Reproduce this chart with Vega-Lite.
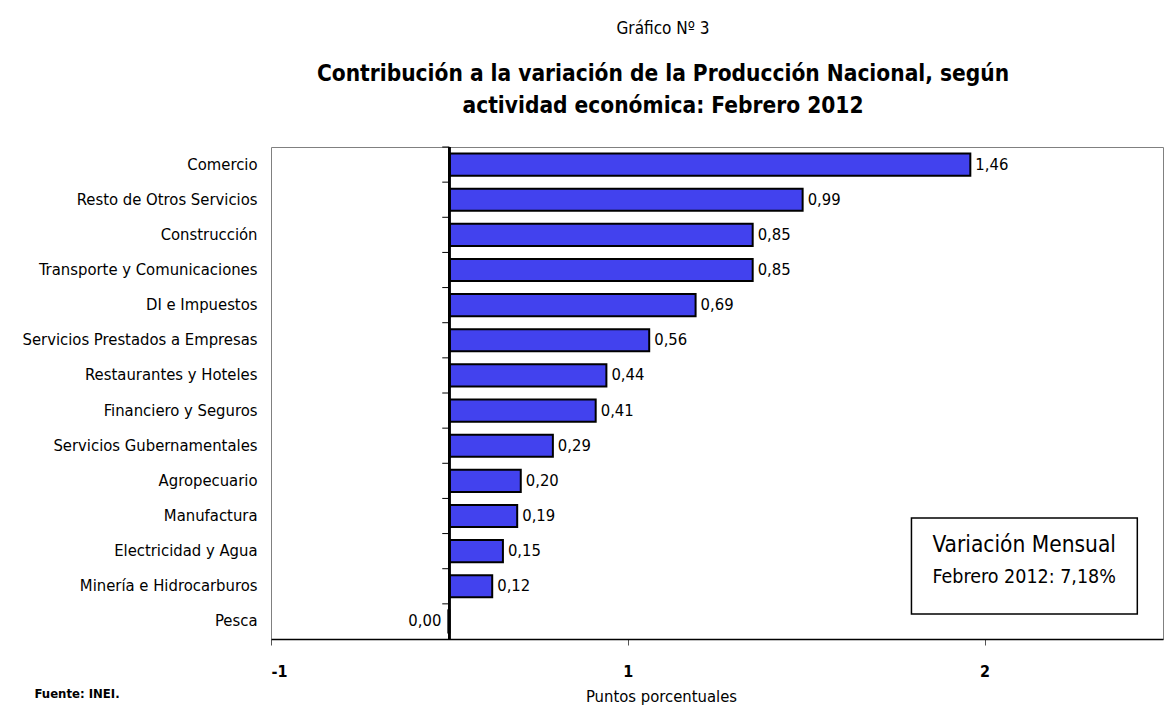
{
  "$schema": "https://vega.github.io/schema/vega-lite/v6.json",
  "autosize": {"type": "none"},
  "width": 892,
  "height": 492,
  "padding": {"left": 271, "top": 147, "right": 5, "bottom": 83},
  "background": "white",
  "config": {
    "font": "DejaVu Sans Condensed, Liberation Sans, sans-serif",
    "view": {"stroke": "#808080", "strokeWidth": 1},
    "locale": {"number": {"decimal": ",", "thousands": ".", "grouping": [3], "currency": ["", " €"]}}
  },
  "title": {
    "text": "Gráfico Nº 3",
    "subtitle": ["Contribución a la variación de la Producción Nacional, según", "actividad económica: Febrero 2012"],
    "anchor": "middle",
    "frame": "group",
    "dx": -54,
    "offset": 28,
    "font": "DejaVu Sans Condensed, Liberation Sans, sans-serif",
    "fontSize": 17,
    "fontWeight": "normal",
    "color": "black",
    "subtitleFont": "DejaVu Sans Condensed, Liberation Sans, sans-serif",
    "subtitleFontSize": 22.5,
    "subtitleFontWeight": "bold",
    "subtitleColor": "black",
    "subtitleLineHeight": 32,
    "subtitlePadding": 25
  },
  "data": {
    "values": [
      {"actividad": "Comercio", "valor": 1.46},
      {"actividad": "Resto de Otros Servicios ", "valor": 0.99},
      {"actividad": "Construcción", "valor": 0.85},
      {"actividad": "Transporte y Comunicaciones", "valor": 0.85},
      {"actividad": "DI e Impuestos", "valor": 0.69},
      {"actividad": "Servicios Prestados a Empresas", "valor": 0.56},
      {"actividad": "Restaurantes y Hoteles", "valor": 0.44},
      {"actividad": "Financiero y Seguros", "valor": 0.41},
      {"actividad": "Servicios Gubernamentales", "valor": 0.29},
      {"actividad": "Agropecuario", "valor": 0.20},
      {"actividad": "Manufactura", "valor": 0.19},
      {"actividad": "Electricidad y Agua", "valor": 0.15},
      {"actividad": "Minería e Hidrocarburos", "valor": 0.12},
      {"actividad": "Pesca", "valor": -0.003}
    ]
  },
  "encoding": {
    "y": {
      "field": "actividad",
      "type": "nominal",
      "sort": null,
      "scale": {"paddingInner": 0, "paddingOuter": 0},
      "axis": {
        "title": "Fuente: INEI.",
        "titleAngle": 0,
        "titleX": -237,
        "titleY": 546,
        "titleAlign": "left",
        "titleBaseline": "middle",
        "titleFontSize": 13,
        "titleFontWeight": "bold",
        "titleColor": "black",
        "ticks": false,
        "domain": false,
        "labelFontSize": 16.5,
        "labelColor": "black",
        "labelPadding": 14,
        "labelLimit": 300
      }
    }
  },
  "layer": [
    {
      "mark": {"type": "bar", "height": {"band": 0.63}, "fill": "#4242ee", "stroke": "black", "strokeWidth": 2},
      "encoding": {
        "x": {
          "field": "valor",
          "type": "quantitative",
          "scale": {"domain": [-0.5, 2], "nice": false, "zero": false},
          "axis": {
            "values": [-0.5, 0.5, 1.5],
            "labelExpr": "datum.value < 0 ? '-1' : datum.value < 1 ? '1' : '2'",
            "grid": false,
            "domainColor": "black",
            "domainWidth": 1.5,
            "tickColor": "#555555",
            "tickSize": 6,
            "labelFontSize": 16,
            "labelFontWeight": "bold",
            "labelColor": "black",
            "labelPadding": 18,
            "title": "Puntos porcentuales",
            "titleFontSize": 16.5,
            "titleFontWeight": "normal",
            "titleColor": "black",
            "titleX": 390,
            "titleY": 57,
            "titleAlign": "center",
            "titleBaseline": "middle"
          }
        }
      }
    },
    {
      "mark": {"type": "rule", "color": "black", "strokeWidth": 1.5},
      "encoding": {"x": {"datum": 0}, "y": null}
    },
    {
      "mark": {"type": "rule", "color": "black", "strokeWidth": 1},
      "encoding": {
        "y": {"field": "actividad", "type": "nominal", "sort": null, "bandPosition": 0},
        "x": {"datum": -0.02},
        "x2": {"datum": 0}
      }
    },
    {
      "transform": [{"filter": "datum.valor >= 0"}],
      "mark": {"type": "text", "align": "left", "baseline": "middle", "dx": 5, "fontSize": 16.5, "color": "black"},
      "encoding": {
        "x": {"field": "valor", "type": "quantitative"},
        "text": {"field": "valor", "type": "quantitative", "format": ".2f"}
      }
    },
    {
      "transform": [{"filter": "datum.valor < 0"}],
      "mark": {"type": "text", "align": "right", "baseline": "middle", "dx": -7, "fontSize": 16.5, "color": "black"},
      "encoding": {
        "x": {"field": "valor", "type": "quantitative"},
        "text": {"field": "valor", "type": "quantitative", "format": ".2f"}
      }
    },
    {
      "data": {"values": [{"x1": 1.295, "x2": 1.928}]},
      "mark": {"type": "rect", "fill": "white", "stroke": "black", "strokeWidth": 1.5},
      "encoding": {
        "x": {"field": "x1", "type": "quantitative"},
        "x2": {"field": "x2"},
        "y": {"datum": "Manufactura", "bandPosition": 0.56},
        "y2": {"datum": "Pesca", "bandPosition": 0.29}
      }
    },
    {
      "data": {"values": [{"x": 1.611, "cat": "Electricidad y Agua", "t": "Variación Mensual"}]},
      "mark": {"type": "text", "align": "center", "baseline": "middle", "fontSize": 22.5, "color": "black"},
      "encoding": {
        "x": {"field": "x", "type": "quantitative"},
        "y": {"field": "cat", "type": "nominal", "bandPosition": 0.33},
        "text": {"field": "t"}
      }
    },
    {
      "data": {"values": [{"x": 1.611, "cat": "Minería e Hidrocarburos", "t": "Febrero 2012: 7,18%"}]},
      "mark": {"type": "text", "align": "center", "baseline": "middle", "fontSize": 19.5, "color": "black"},
      "encoding": {
        "x": {"field": "x", "type": "quantitative"},
        "y": {"field": "cat", "type": "nominal", "bandPosition": 0.24},
        "text": {"field": "t"}
      }
    }
  ]
}
